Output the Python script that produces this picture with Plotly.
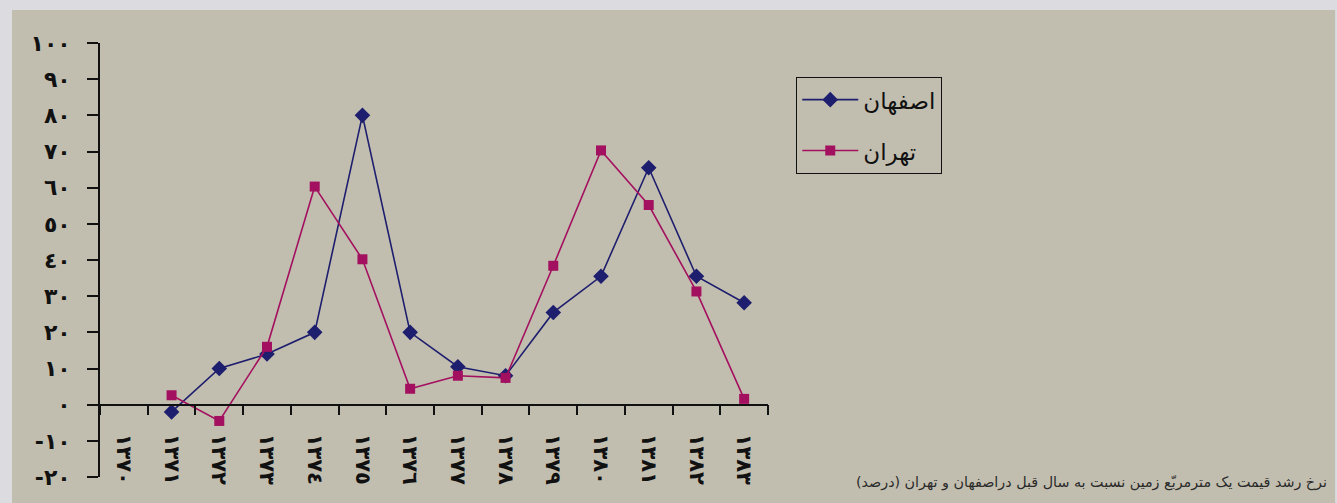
import plotly.graph_objects as go

# Years (Solar Hijri) and year-on-year growth of land price per m² (%)
years = ["١٣٧٠", "١٣٧١", "١٣٧٢", "١٣٧٣", "١٣٧٤", "١٣٧٥", "١٣٧٦",
         "١٣٧٧", "١٣٧٨", "١٣٧٩", "١٣٨٠", "١٣٨١", "١٣٨٢", "١٣٨٣"]
isfahan = [None, -2, 10, 14, 20, 80, 20, 10.5, 8, 25.5, 35.5, 65.5, 35.5, 28.2]
tehran = [None, 2.6, -4.5, 16, 60.3, 40.2, 4.4, 8, 7.4, 38.4, 70.3, 55.2, 31.3, 1.6]

y_ticks = [-20, -10, 0, 10, 20, 30, 40, 50, 60, 70, 80, 90, 100]
y_tick_text = ["-٢٠", "-١٠", "٠", "١٠", "٢٠", "٣٠", "٤٠", "٥٠",
               "٦٠", "٧٠", "٨٠", "٩٠", "١٠٠"]

caption = "نرخ رشد قیمت یک مترمربّع زمین نسبت به سال قبل دراصفهان و تهران (درصد)"

NAVY = "#1e1e6e"
MAGENTA = "#a3105f"
FONT = "DejaVu Sans"

fig = go.Figure()
fig.add_trace(go.Scatter(
    x=years, y=isfahan, name="اصفهان", mode="lines+markers",
    line=dict(color=NAVY, width=1.6),
    marker=dict(symbol="diamond", size=12, color=NAVY),
    legendgroup="a",
))
fig.add_trace(go.Scatter(
    x=years, y=tehran, name="تهران", mode="lines+markers",
    line=dict(color=MAGENTA, width=1.6),
    marker=dict(symbol="square", size=10, color=MAGENTA),
    legendgroup="b",
))

# zero level as a fraction of the y range, where the category axis sits
zero_pos = (0 - y_ticks[0]) / (y_ticks[-1] - y_ticks[0])

fig.update_layout(
    width=1337, height=503,
    margin=dict(l=100, r=569, t=43, b=26),
    paper_bgcolor="#dcdce0",
    plot_bgcolor="rgba(0,0,0,0)",
    font=dict(family=FONT, color="#111111"),
    showlegend=True,
    legend=dict(
        x=1.042, y=0.9217, xanchor="left", yanchor="top",
        bgcolor="rgba(0,0,0,0)", bordercolor="#111111", borderwidth=1.2,
        font=dict(family=FONT, size=23, color="#111111"),
        itemwidth=56, tracegroupgap=18,
    ),
    xaxis=dict(
        type="category", range=[-0.5, len(years) - 0.5],
        anchor="free", position=zero_pos,
        showline=True, linecolor="#111111", linewidth=1.6,
        ticks="outside", tickson="boundaries", ticklen=10,
        tickwidth=1.6, tickcolor="#111111",
        tickangle=90, ticklabelstandoff=24,
        tickfont=dict(family=FONT, size=21, color="#111111", weight="bold"),
        showgrid=False, zeroline=False, fixedrange=True,
    ),
    yaxis=dict(
        range=[y_ticks[0], y_ticks[-1]],
        tickvals=y_ticks, ticktext=y_tick_text,
        showline=True, linecolor="#111111", linewidth=1.6,
        ticks="outside", ticklen=11, tickwidth=1.6, tickcolor="#111111",
        ticklabelstandoff=12,
        tickfont=dict(family=FONT, size=22, color="#111111", weight="bold"),
        showgrid=False, zeroline=False, fixedrange=True,
    ),
    shapes=[dict(
        type="rect", xref="paper", yref="paper", layer="below",
        x0=-0.1317, x1=1.849, y0=-0.1, y1=1.076,
        fillcolor="#c2beaf", line=dict(width=0),
    )],
    annotations=[dict(
        text=caption, xref="paper", yref="paper",
        x=1.84, y=-0.0138, xanchor="right", yanchor="middle",
        showarrow=False,
        font=dict(family=FONT, size=14.3, color="#2a2a2a"),
    )],
)

fig.write_html("out.html")
